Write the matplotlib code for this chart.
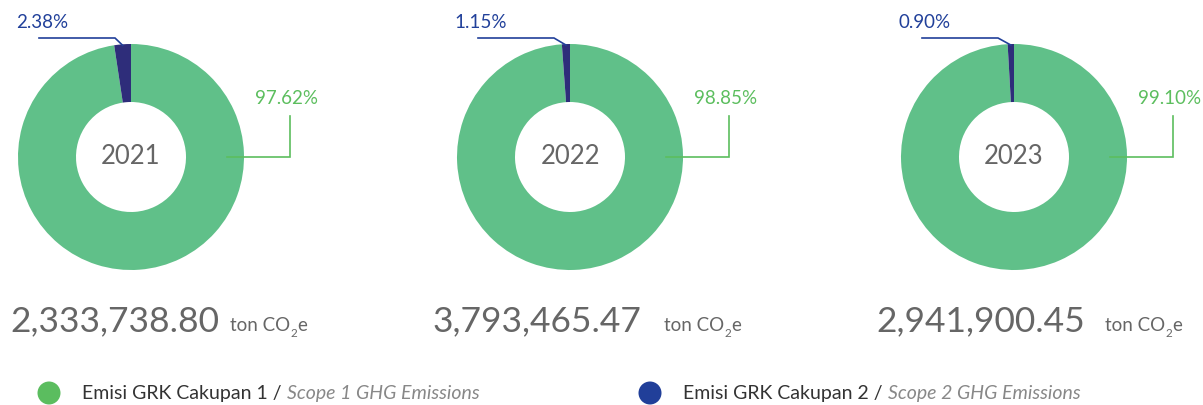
import matplotlib
matplotlib.use("Agg")
import matplotlib.pyplot as plt
from matplotlib.patches import Circle
import numpy as np

years = ["2021", "2022", "2023"]
scope1_pct = [97.62, 98.85, 99.10]
scope2_pct = [2.38, 1.15, 0.90]
totals = ["2,333,738.80", "3,793,465.47", "2,941,900.45"]
legend_id = ["Emisi GRK Cakupan 1 / ", "Emisi GRK Cakupan 2 / "]
legend_en = ["Scope 1 GHG Emissions", "Scope 2 GHG Emissions"]

W, H = 1203, 405
FONT = "Lato"
plt.rcParams["font.family"] = [FONT, "DejaVu Sans"]

C_GREEN = "#60C089"
C_BLUE = "#2E2D7A"
C_LBL_BLUE = "#21409A"
C_LBL_GREEN = "#5CBE5E"
C_GRAY = "#666666"

fig = plt.figure(figsize=(W / 100, H / 100), dpi=100)
ax = fig.add_axes([0, 0, 1, 1])

def Y(py):
    return H - py

def setlims():
    ax.set_xlim(0, W)
    ax.set_ylim(0, H)
    ax.set_aspect("equal")
    ax.axis("off")

centers_x = [131, 570, 1014]
cy = 157
r_out, r_in = 113, 55

for i, cx in enumerate(centers_x):
    ax.pie([scope1_pct[i], scope2_pct[i]], colors=[C_GREEN, C_BLUE],
           startangle=90, counterclock=False, center=(cx, Y(cy)), radius=r_out,
           wedgeprops=dict(width=r_out - r_in, edgecolor="none", linewidth=0))
setlims()

for i, cx in enumerate(centers_x):
    ax.text(cx, Y(cy), years[i], ha="center", va="center", fontsize=18.5, color=C_GRAY)
    # blue leader
    ang = np.deg2rad(90 + scope2_pct[i] / 100 * 360 / 2)
    sx, sy = cx + (r_out - 1) * np.cos(ang), Y(cy) + (r_out - 1) * np.sin(ang)
    ax.plot([sx, cx - 16, cx - 92], [sy, Y(38), Y(38)], color=C_LBL_BLUE, lw=1.2,
            solid_joinstyle="miter")
    ax.text(cx - 89, Y(23), f"{scope2_pct[i]:.2f}%", ha="center", va="center",
            fontsize=13.5, color=C_LBL_BLUE)
    # green leader
    ax.plot([cx + 96, cx + 159, cx + 159], [Y(cy), Y(cy), Y(116)], color=C_LBL_GREEN,
            lw=1.2, solid_joinstyle="miter")
    ax.text(cx + 156, Y(98), f"{scope1_pct[i]:.2f}%", ha="center", va="center",
            fontsize=13.5, color=C_LBL_GREEN)
setlims()

fig.canvas.draw()
r = fig.canvas.get_renderer()

def after(t, gap=0):
    bb = t.get_window_extent(renderer=r)
    return ax.transData.inverted().transform((bb.x1, bb.y0))[0] + gap

num_x = [10, 433, 876]
unit_x = [230, 664, 1105]
for i in range(3):
    ax.text(num_x[i], Y(331), totals[i], ha="left", va="baseline", fontsize=25.5, color=C_GRAY)
    t1 = ax.text(unit_x[i], Y(331), "ton CO", ha="left", va="baseline", fontsize=13.5, color=C_GRAY)
    x2 = after(t1)
    t2 = ax.text(x2, Y(337), "2", ha="left", va="baseline", fontsize=8.5, color=C_GRAY)
    x3 = after(t2)
    ax.text(x3, Y(331), "e", ha="left", va="baseline", fontsize=13.5, color=C_GRAY)

leg_cx = [49, 650]
leg_colors = ["#5BBD5F", "#213F99"]
for i in range(2):
    ax.add_patch(Circle((leg_cx[i], Y(393)), 11.5, color=leg_colors[i], lw=0))
    t = ax.text(leg_cx[i] + 33, Y(393), legend_id[i], ha="left", va="center",
                fontsize=14, color="#333333")
    xx = after(t)
    ax.text(xx, Y(393), legend_en[i], ha="left", va="center", fontsize=14,
            color="#888888", style="italic")

fig.savefig("out.png", dpi=100)
